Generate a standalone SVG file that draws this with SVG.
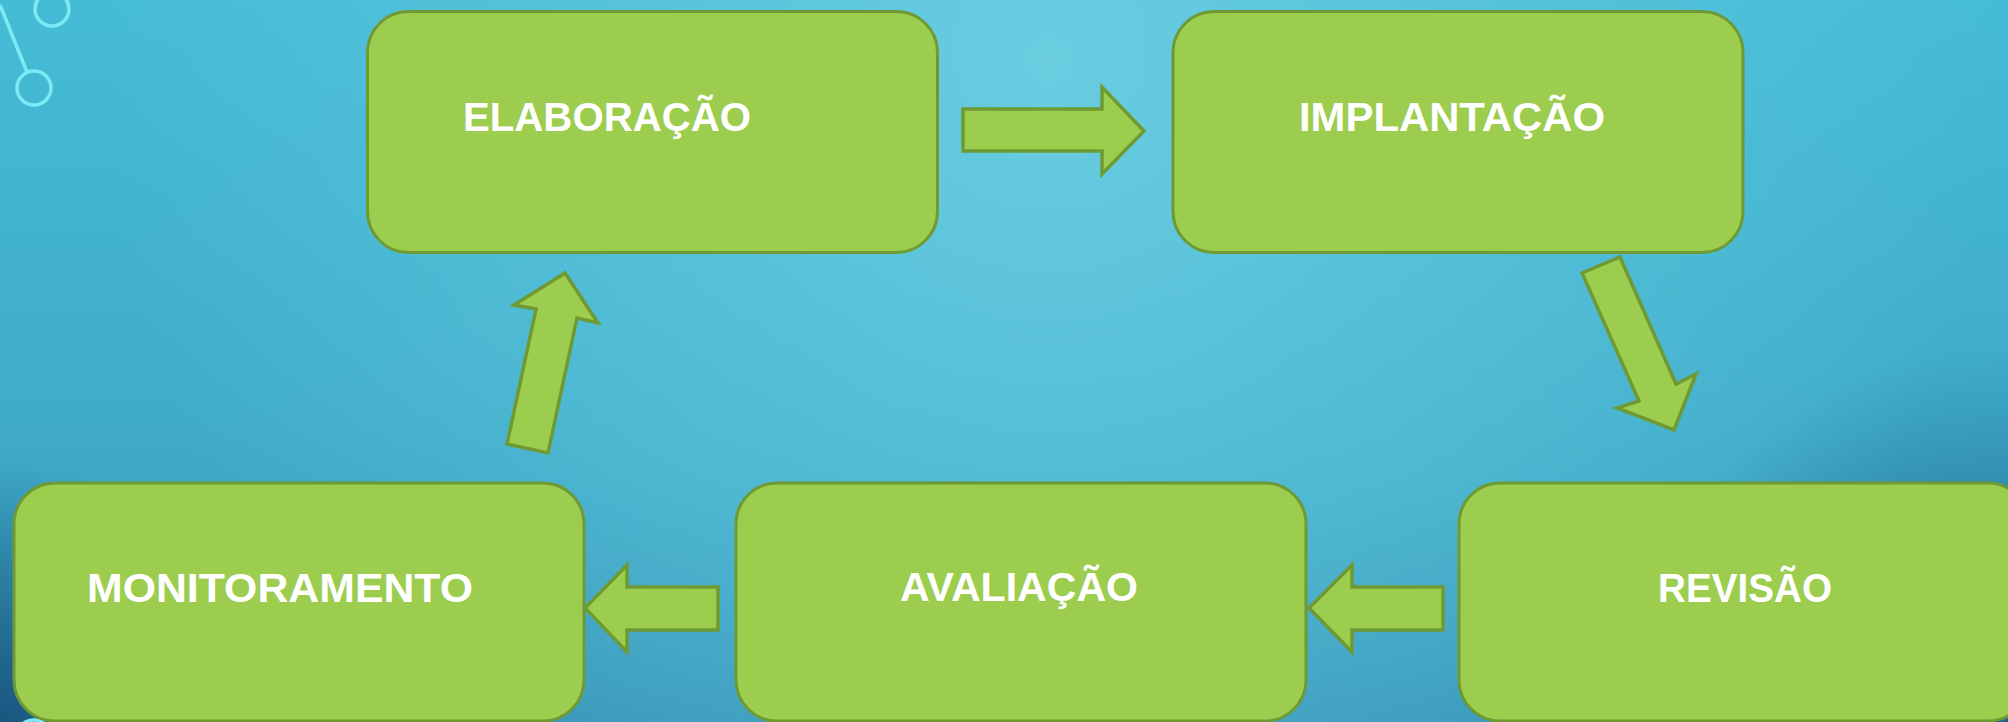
<svg xmlns="http://www.w3.org/2000/svg" width="2008" height="722" viewBox="0 0 2008 722">
<defs>
<linearGradient id="bgLin" x1="0" y1="0" x2="0" y2="1">
<stop offset="0" stop-color="#45bcd6"/>
<stop offset="0.6" stop-color="#3fabc9"/>
<stop offset="1" stop-color="#3592b5"/>
</linearGradient>
<radialGradient id="hl" gradientUnits="userSpaceOnUse" cx="1050" cy="60" r="950">
<stop offset="0" stop-color="#6acde0" stop-opacity="1"/>
<stop offset="0.55" stop-color="#5ec6dc" stop-opacity="0.55"/>
<stop offset="1" stop-color="#5ec6dc" stop-opacity="0"/>
</radialGradient>
<radialGradient id="dkL" gradientUnits="userSpaceOnUse" cx="0" cy="722" r="260">
<stop offset="0" stop-color="#164f7a" stop-opacity="0.9"/>
<stop offset="1" stop-color="#164f7a" stop-opacity="0"/>
</radialGradient>
<radialGradient id="dkR" gradientUnits="userSpaceOnUse" cx="2008" cy="722" r="380">
<stop offset="0" stop-color="#1a5a82" stop-opacity="0.8"/>
<stop offset="1" stop-color="#1a5a82" stop-opacity="0"/>
</radialGradient>
<style>
.box{fill:#9ccd4f;stroke:#6f9a33;stroke-width:3}
.arr{fill:#9ccd4f;stroke:#6f9a33;stroke-width:3.5;stroke-linejoin:miter}
.lbl{font-family:"Liberation Sans",Arial,sans-serif;font-weight:bold;font-size:41px;fill:#ffffff}
.deco{fill:none;stroke:#7de9f5;stroke-width:3.5}
</style>
</defs>
<rect width="2008" height="722" fill="url(#bgLin)"/>
<rect width="2008" height="722" fill="url(#hl)"/>
<rect width="2008" height="722" fill="url(#dkL)"/>
<rect width="2008" height="722" fill="url(#dkR)"/>
<g id="decoration">
<circle class="deco" cx="52" cy="9" r="17"/>
<circle class="deco" cx="34" cy="88" r="17"/>
<line class="deco" x1="0" y1="5" x2="27" y2="72"/>
<circle class="deco" cx="34" cy="738" r="18"/>
</g>
<g id="node-elaboracao">
<rect class="box" x="367.5" y="11.5" width="570" height="241" rx="41"/>
<text class="lbl" x="463" y="131" textLength="288" lengthAdjust="spacingAndGlyphs">ELABORAÇÃO</text>
</g>
<g id="node-implantacao">
<rect class="box" x="1173" y="11.5" width="570" height="241" rx="41"/>
<text class="lbl" x="1299" y="131" textLength="306" lengthAdjust="spacingAndGlyphs">IMPLANTAÇÃO</text>
</g>
<g id="node-revisao">
<rect class="box" x="1459" y="483" width="570" height="238" rx="41"/>
<text class="lbl" x="1658" y="602" textLength="174" lengthAdjust="spacingAndGlyphs">REVISÃO</text>
</g>
<g id="node-avaliacao">
<rect class="box" x="736" y="483" width="570" height="238" rx="41"/>
<text class="lbl" x="900" y="601" textLength="238" lengthAdjust="spacingAndGlyphs">AVALIAÇÃO</text>
</g>
<g id="node-monitoramento">
<rect class="box" x="14" y="483" width="570" height="238" rx="41"/>
<text class="lbl" x="87" y="602" textLength="386" lengthAdjust="spacingAndGlyphs">MONITORAMENTO</text>
</g>
<g id="connectors">
<polygon class="arr" points="963,109 1102,109 1102,87 1144,131 1102,174 1102,151 963,151"/>
<polygon class="arr" points="1582,273 1620,257 1676,384 1696,374 1674,430 1617,408 1639,401"/>
<polygon class="arr" points="1443,587 1352,587 1352,565 1309,608 1352,652 1352,630 1443,630"/>
<polygon class="arr" points="718,587 627,587 627,565 585,608 627,652 627,630 718,630"/>
<polygon class="arr" points="507,444 548,453 577,318 598,323 565,273 514,305 536,309"/>
</g>
</svg>
